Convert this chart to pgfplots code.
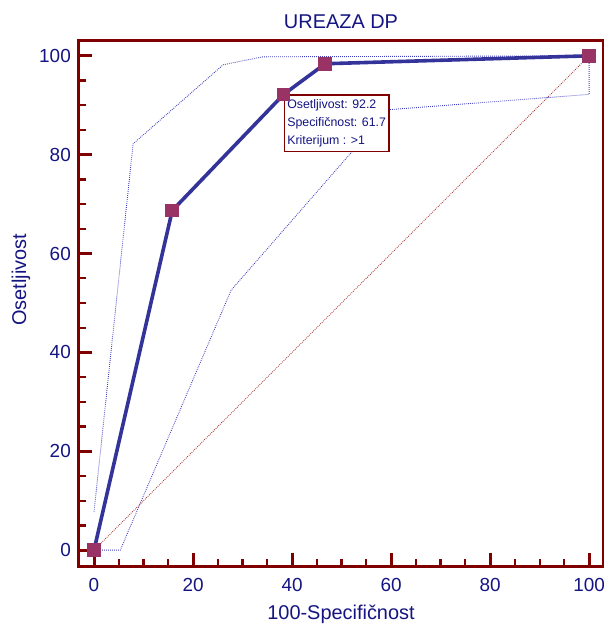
\documentclass[border=0pt]{standalone}
\usepackage{fontspec}
\setmainfont{Liberation Sans}
\usepackage{pgfplots}
\pgfplotsset{compat=1.18}

\definecolor{axred}{RGB}{128,0,0}
\definecolor{txtblue}{RGB}{20,20,130}
\definecolor{rocblue}{RGB}{51,51,153}
\definecolor{ciblue}{RGB}{60,60,190}
\definecolor{diagred}{RGB}{170,50,50}
\definecolor{mkred}{RGB}{153,51,102}

\begin{document}
\begin{tikzpicture}
% page = 604 x 627, axis box 524 x 525 at the origin
\useasboundingbox (-79bp,-61bp) rectangle (525bp,566bp);
\begin{axis}[
    at={(0,0)}, anchor=south west,
    scale only axis,
    width=524bp, height=525bp,
    xmin=-3.03, xmax=102.8,
    ymin=-3.2, ymax=103.0,
    xtick={0,20,...,100}, ytick={0,20,...,100},
    minor x tick num=3, minor y tick num=3,
    xtick pos=left, ytick pos=left,
    tick align=inside,
    major tick length=13bp, minor tick length=7bp,
    every tick/.style={axred},
    every major tick/.append style={line width=3bp},
    every minor tick/.append style={line width=2.2bp},
    axis line style={line width=3bp, draw=axred},
    /pgf/number format/assume math mode=true,
    ticklabel style={font=\fontsize{19}{19}\selectfont, text=txtblue},
    xticklabel style={inner sep=0pt, yshift=-12bp},
    yticklabel style={inner sep=0pt, xshift=-8bp},
    title={UREAZA DP},
    xlabel={100-Specifičnost},
    ylabel={Osetljivost},
    every axis title/.style={at={(axis description cs:0.5,1.0229)}, anchor=base,
        font=\fontsize{20}{20}\selectfont, text=txtblue},
    every axis x label/.style={at={(axis description cs:0.5,-0.101)}, anchor=base,
        font=\fontsize{20}{20}\selectfont, text=txtblue},
    every axis y label/.style={at={(axis description cs:-0.1011,0.545)}, anchor=base, rotate=90,
        font=\fontsize{20}{20}\selectfont, text=txtblue},
]
% lower confidence bound
\addplot[ciblue, line width=0.9bp, dash pattern=on 0.8bp off 1.2bp, mark=none]
    coordinates {(0,0) (5.3,0) (27.7,52.6) (59.5,89.1) (100,92.2) (100,100)};
% upper confidence bound
\addplot[ciblue, line width=0.9bp, dash pattern=on 0.8bp off 1.2bp, mark=none]
    coordinates {(0,7.7) (7.9,82.2) (26.1,98.2) (34.1,99.8) (100,100)};
% reference diagonal
\addplot[diagred, line width=0.9bp, dash pattern=on 0.8bp off 1.2bp, mark=none]
    coordinates {(0,0) (100,100)};

\node[draw=axred, line width=1.4bp, fill=white, anchor=north west,
      inner xsep=3bp, inner ysep=4.5bp, align=left, text=txtblue,
      font=\fontsize{12.4}{18}\selectfont]
    at (axis cs:38.3,92.2) {Osetljivost: 92.2\\Specifičnost: 61.7\\Kriterijum : >1};

% ROC curve
\addplot[rocblue, line width=3.6bp, mark=square*, mark size=6.3bp,
         mark options={fill=mkred, draw=mkred, line width=0pt}]
    coordinates {(0,0) (15.8,68.7) (38.3,92.2) (46.7,98.4) (100,100)};
\end{axis}
\end{tikzpicture}
\end{document}
